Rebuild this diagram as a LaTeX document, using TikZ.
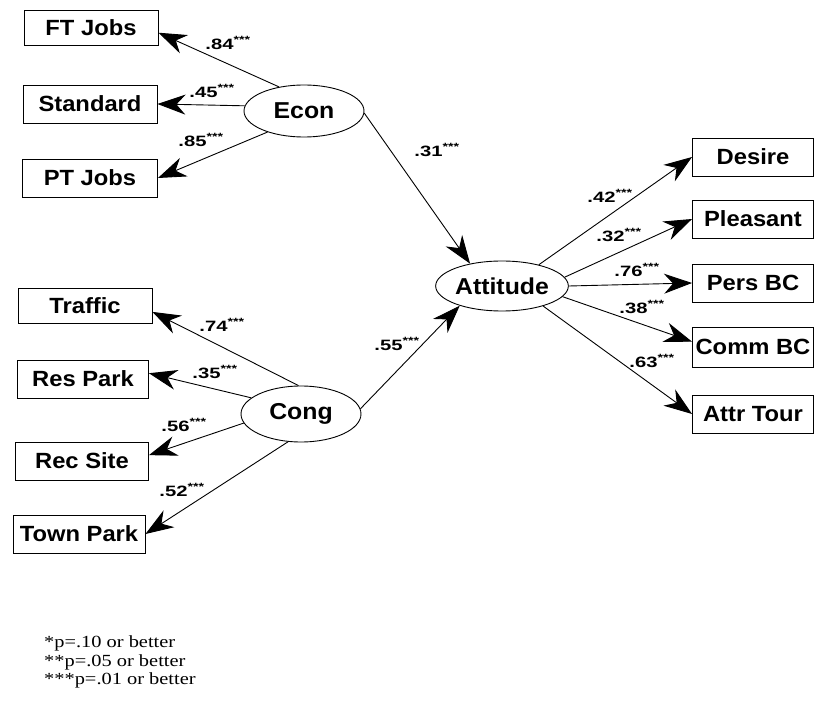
\documentclass[tikz,border=0pt]{standalone}
\usepackage{fontspec}
\setmainfont{Liberation Sans}[FakeStretch=1.08]
\newfontfamily\coeffont{Liberation Sans}[FakeStretch=1.35]
\newfontfamily\legendfont{Liberation Serif}[FakeStretch=1.2]
\usetikzlibrary{arrows.meta,shapes.geometric}
\tikzset{
  sem/box/.style={
    draw=black,
    line width=0.9pt,
    rectangle,
    minimum height=38pt,
    inner sep=2pt,
    align=center,
    font=\fontsize{22}{24}\selectfont\bfseries
  },
  sem/latent/.style={
    ellipse,
    draw=black,
    line width=0.9pt,
    minimum width=120pt,
    minimum height=52pt,
    inner sep=0pt,
    font=\fontsize{23}{26}\selectfont\bfseries
  },
  sem/arrow/.style={-{Stealth[length=28pt,width=20pt,inset=9pt]}, line width=0.9pt},
  sem/coef/.style={font=\coeffont\fontsize{15}{16}\selectfont\bfseries, inner sep=0pt},
  sem/note/.style={font=\legendfont\fontsize{17}{18.5}\selectfont, align=left, inner sep=0pt}
}
\begin{document}
\begin{tikzpicture}[x=1pt,y=-1pt]
  \useasboundingbox (0,0) rectangle (817,703);
  % economic indicators
  \node[sem/box,minimum width=134pt,minimum height=35pt] (ft) at (91,28) {FT Jobs};
  \node[sem/box,minimum width=134pt] (std) at (90,104) {Standard};
  \node[sem/box,minimum width=135pt] (pt) at (90,178) {PT Jobs};
  \node[sem/latent] (econ) at (304,111) {Econ};
  % congestion indicators
  \node[sem/box,minimum width=134pt,minimum height=35pt] (traffic) at (85,306) {Traffic};
  \node[sem/box,minimum width=131pt] (respark) at (83,379) {Res Park};
  \node[sem/box,minimum width=133pt] (recsite) at (82,461) {Rec Site};
  \node[sem/box,minimum width=132pt] (townpark) at (79,534) {Town Park};
  \node[sem/latent,minimum height=56pt] (cong) at (301,414) {Cong};
  % attitude and its indicators
  \node[sem/latent,minimum width=121pt,minimum height=50pt] (att) at (502,286) {Attitude};
  \node[sem/box,minimum width=121pt] (desire) at (753,157) {Desire};
  \node[sem/box,minimum width=121pt] (pleasant) at (753,219) {Pleasant};
  \node[sem/box,minimum width=121pt] (persbc) at (753,283) {Pers BC};
  \node[sem/box,minimum width=121pt,minimum height=40pt] (commbc) at (753,347) {Comm BC};
  \node[sem/box,minimum width=121pt] (attrtour) at (753,414) {Attr Tour};

  \draw[sem/arrow] (econ.136) -- (ft.-4);
  \draw[sem/arrow] (econ.175) -- (std.east);
  \draw[sem/arrow] (econ.210) -- (pt.east);
  \draw[sem/arrow] (econ.-2) -- (att.145);
  \draw[sem/arrow] (cong.95) -- (traffic.-5);
  \draw[sem/arrow] (cong.162) -- (respark.5);
  \draw[sem/arrow] (cong.189) -- (recsite.5);
  \draw[sem/arrow] (cong.245) -- (townpark.east);
  \draw[sem/arrow] (cong.5) -- (att.205);
  \draw[sem/arrow] (att.30) -- (desire.west);
  \draw[sem/arrow] (att.8) -- (pleasant.west);
  \draw[sem/arrow] (att.east) -- (persbc.west);
  \draw[sem/arrow] (att.-10) -- (commbc.175);
  \draw[sem/arrow] (att.-26) -- (attrtour.west);

  \node[sem/coef] (c-ft) at (228,43) {.84\textsuperscript{***}};
  \node[sem/coef] (c-std) at (212,91) {.45\textsuperscript{***}};
  \node[sem/coef] (c-pt) at (201,140) {.85\textsuperscript{***}};
  \node[sem/coef] (c-econ) at (437,150) {.31\textsuperscript{***}};
  \node[sem/coef] (c-traffic) at (222,325) {.74\textsuperscript{***}};
  \node[sem/coef] (c-respark) at (215,372) {.35\textsuperscript{***}};
  \node[sem/coef] (c-recsite) at (184,425) {.56\textsuperscript{***}};
  \node[sem/coef] (c-townpark) at (182,490) {.52\textsuperscript{***}};
  \node[sem/coef] (c-cong) at (397,344) {.55\textsuperscript{***}};
  \node[sem/coef] (c-desire) at (610,196) {.42\textsuperscript{***}};
  \node[sem/coef] (c-pleasant) at (619,235) {.32\textsuperscript{***}};
  \node[sem/coef] (c-persbc) at (637,270) {.76\textsuperscript{***}};
  \node[sem/coef] (c-commbc) at (642,307) {.38\textsuperscript{***}};
  \node[sem/coef] (c-attrtour) at (652,361) {.63\textsuperscript{***}};

  \node[sem/note,anchor=north west] (note) at (44,636) {*p=.10 or better\\**p=.05 or better\\***p=.01 or better};
\end{tikzpicture}
\end{document}
